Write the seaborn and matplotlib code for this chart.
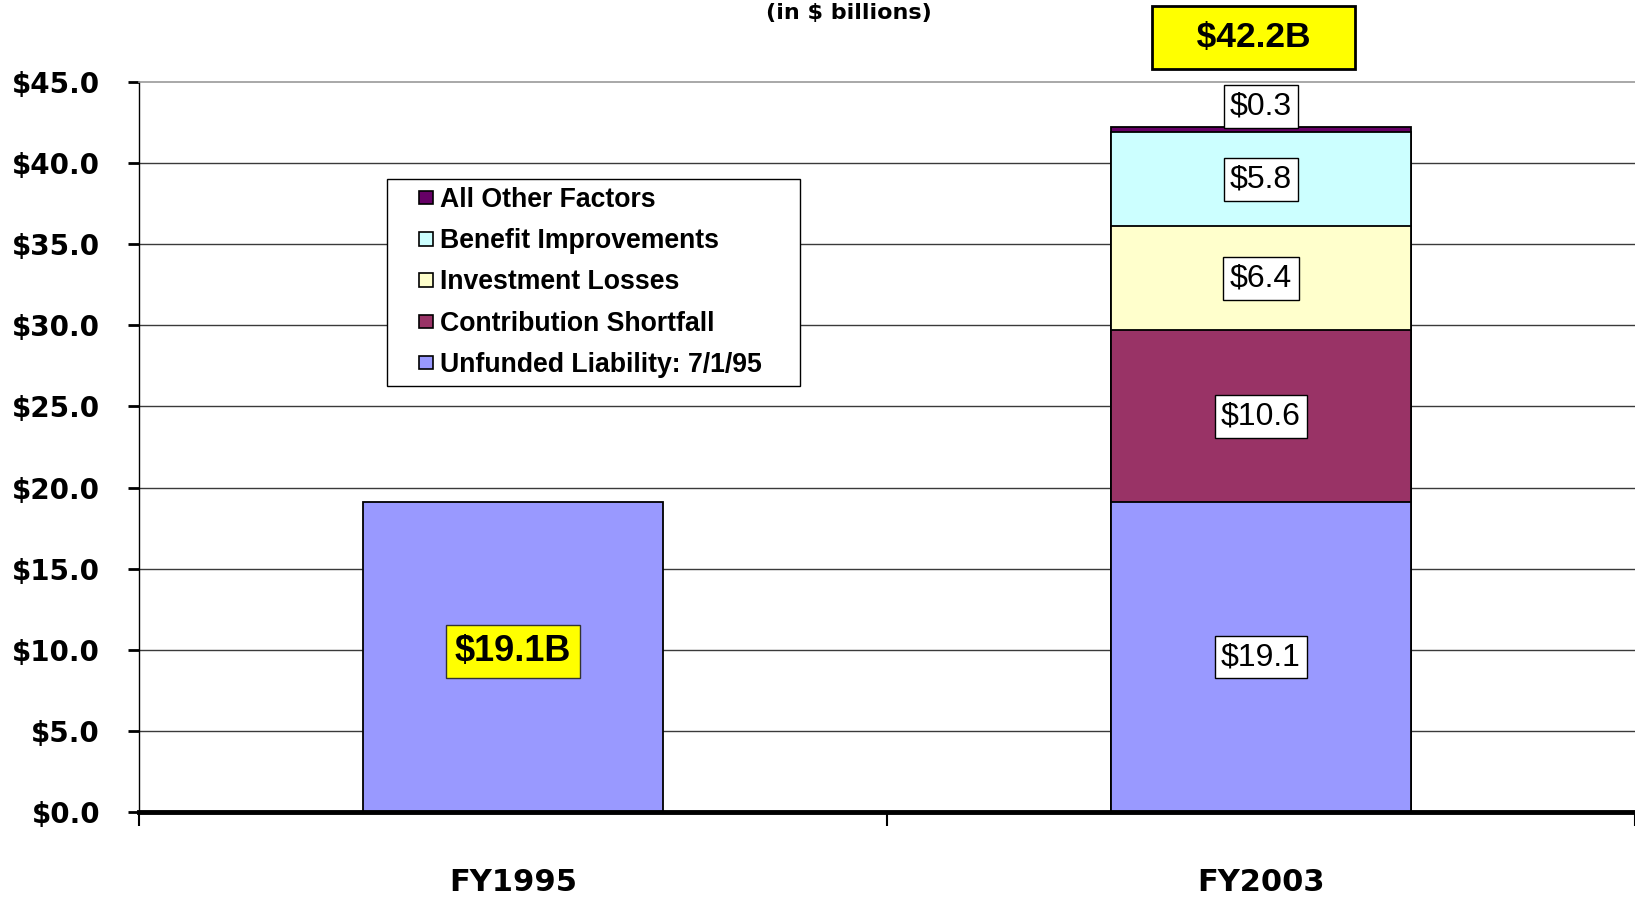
import numpy as np
import pandas as pd
import seaborn as sns
import matplotlib.pyplot as plt
from matplotlib.patches import Patch, Rectangle
from matplotlib.legend_handler import HandlerPatch
from matplotlib.ticker import FuncFormatter, FixedLocator

years = ["FY1995", "FY2003"]
components = ["Unfunded Liability: 7/1/95", "Contribution Shortfall",
              "Investment Losses", "Benefit Improvements", "All Other Factors"]
fy1995 = [19.1, 0, 0, 0, 0]
fy2003 = [19.1, 10.6, 6.4, 5.8, 0.3]
totals = [19.1, 42.2]
colors = ["#9999FF", "#993366", "#FFFFCC", "#CCFFFF", "#660066"]

sns.set_theme(style="white")
plt.rcParams["font.family"] = ["Liberation Sans", "DejaVu Sans"]
plt.rcParams["text.color"] = "black"
plt.rcParams["xtick.color"] = "black"
plt.rcParams["ytick.color"] = "black"

df = pd.DataFrame({
    "year": np.repeat(years, len(components)),
    "component": components * 2,
    "value": fy1995 + fy2003,
})
df["cum"] = df.groupby("year")["value"].cumsum()
df["bottom"] = df["cum"] - df["value"]

fig = plt.figure(figsize=(16.35, 8.99), dpi=100)
ax = fig.add_axes([0.085, 0.0968, 0.915, 0.812])

# stacked bars: draw cumulative totals, tallest first
for comp, col in reversed(list(zip(components, colors))):
    sub = df[(df.component == comp) & (df.value > 0)]
    sns.barplot(data=sub, x="year", y="cum", order=years, color=col,
                saturation=1, width=0.4, edgecolor="black", linewidth=1.3,
                errorbar=None, ax=ax, zorder=3)

ax.set_xlim(-0.5, 1.5)
ax.set_ylim(0, 45)
ax.set_yticks(np.arange(0, 46, 5))
ax.yaxis.set_major_formatter(FuncFormatter(lambda v, p: f"${v:.1f}"))
ax.grid(axis="y", color="#3a3a3a", linewidth=1, zorder=0)
ax.set_axisbelow(True)
ax.get_ygridlines()[-1].set_visible(False)
ax.set_xlabel("")
ax.set_ylabel("")

for lab in ax.get_yticklabels():
    lab.set_family("DejaVu Sans")
    lab.set_fontweight("bold")
    lab.set_fontsize(20)
ax.tick_params(axis="y", which="major", left=True, length=8, width=2,
               color="black", pad=20)

ax.xaxis.set_minor_locator(FixedLocator([-0.5, 0.5, 1.5]))
ax.tick_params(axis="x", which="major", length=0, pad=40)
ax.tick_params(axis="x", which="minor", bottom=True, length=10, width=1.5,
               color="black", direction="out")
ax.set_xticks([0, 1])
ax.set_xticklabels(years, fontsize=22, fontweight="bold", family="DejaVu Sans")

ax.spines["left"].set_color("black")
ax.spines["left"].set_linewidth(1)
ax.spines["bottom"].set_color("black")
ax.spines["bottom"].set_linewidth(3.5)
ax.spines["bottom"].set_zorder(5)
ax.spines["top"].set_color("#999999")
ax.spines["top"].set_linewidth(1.2)
ax.spines["right"].set_visible(False)

# segment labels for FY2003
seg = df[(df.year == "FY2003")]
for _, r in seg.iterrows():
    y = r.bottom + r.value / 2
    if r.value < 1:
        y = r.cum + 1.3
    ax.text(1, y, f"${r.value:.1f}", ha="center", va="center", fontsize=23,
            zorder=6, bbox=dict(boxstyle="square,pad=0.2", fc="white",
                                ec="black", lw=1))

# total labels
ax.text(0, totals[0] / 2 + 0.35, f"${totals[0]:.1f}B", ha="center", va="center",
        fontsize=26, fontweight="bold", zorder=6,
        bbox=dict(boxstyle="square,pad=0.24", fc="#FFFF00", ec="#333333", lw=1))
ax.text(0.99, 47.75, f"   ${totals[1]:.1f}B   ", ha="center", va="center",
        fontsize=25.5, fontweight="bold", zorder=6, clip_on=False,
        bbox=dict(boxstyle="square,pad=0.42", fc="#FFFF00", ec="black", lw=2))


def square_handle(legend, orig_handle, xdescent, ydescent, width, height, fontsize):
    s = 0.5 * fontsize
    return Rectangle((-xdescent + width - s, -ydescent + (height - s) / 2), s, s)


handles = [Patch(facecolor=c, edgecolor="black", linewidth=1.2, label=n)
           for n, c in zip(components, colors)][::-1]
leg = ax.legend(handles=handles, loc="upper left",
                bbox_to_anchor=(0.166, 0.0, 0.276, 0.867), mode="expand",
                borderaxespad=0, frameon=True, fancybox=False, framealpha=1,
                edgecolor="black", prop=dict(weight="bold", size=19.2),
                handlelength=1.4, handleheight=0.7, handletextpad=0.27,
                labelspacing=0.57, borderpad=0.3,
                handler_map={Patch: HandlerPatch(patch_func=square_handle)})
leg.get_frame().set_linewidth(1)
leg.set_zorder(7)

fig.text(0.519, 1 - 13 / 899, "(in $ billions)", ha="center", va="center",
         fontsize=16, fontweight="bold", family="DejaVu Sans")

fig.savefig("out.png", dpi=100)
